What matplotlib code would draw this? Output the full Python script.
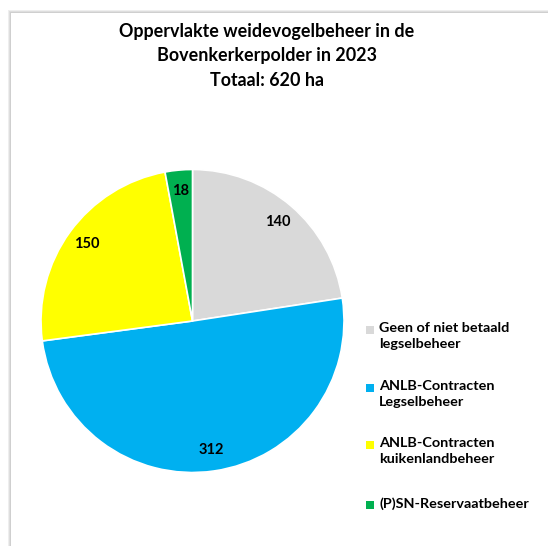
import matplotlib
matplotlib.use("Agg")
import matplotlib.pyplot as plt
from matplotlib.patches import Rectangle

categories = ["Geen of niet betaald\nlegselbeheer", "ANLB-Contracten\nLegselbeheer",
              "ANLB-Contracten\nkuikenlandbeheer", "(P)SN-Reservaatbeheer"]
values = [140, 312, 150, 18]
colors = ["#D9D9D9", "#00B0F0", "#FFFF00", "#00B050"]
title = "Oppervlakte weidevogelbeheer in de\nBovenkerkerpolder in 2023\nTotaal: 620 ha"

plt.rcParams['font.family'] = ['Lato', 'DejaVu Sans']
W, H = 548, 546
fig = plt.figure(figsize=(W / 100, H / 100), dpi=100)
fig.patch.set_facecolor("white")

# frame shadow (grey band on left and top)
for i, c in enumerate(["#eeeeee", "#dedede", "#cfcfcf"]):
    fig.patches.append(Rectangle(((8 + i) / W, -0.01), 1, (H - 10 - i) / H + 0.01,
                                 transform=fig.transFigure, facecolor=c, edgecolor="none",
                                 zorder=-3 + i * 0.1))
fig.patches.append(Rectangle((11 / W, -0.01), 1, (H - 13) / H + 0.01, transform=fig.transFigure,
                             facecolor="white", edgecolor="none", zorder=-2))

cx, cy, r = 192.5, 321, 151.5
ax = fig.add_axes([(cx - r) / W, (H - cy - r) / H, 2 * r / W, 2 * r / H])
ax.set_zorder(5)
ax.patch.set_alpha(0)
wedges, texts = ax.pie(values, colors=colors, startangle=90, counterclock=False,
                       labels=[str(v) for v in values], labeldistance=0.86,
                       wedgeprops=dict(edgecolor="white", linewidth=1.2),
                       textprops=dict(fontsize=10.5, fontweight="bold", color="black",
                                      ha="center", va="center"))
for t in texts:
    t.set_horizontalalignment("center")
ax.set_xlim(-1, 1)
ax.set_ylim(-1, 1)

fig.text(267 / W, 1 - 56 / H, title, ha="center", va="center", fontsize=12.9,
         fontweight="bold", linespacing=1.5, zorder=6)

ys = [330, 388, 445, 505]
for lab, col, y in zip(categories, colors, ys):
    fig.patches.append(Rectangle((366 / W, 1 - (y + 4) / H), 8 / W, 8 / H,
                                 transform=fig.transFigure, facecolor=col, edgecolor="none",
                                 zorder=6))
    fig.text(379 / W, 1 - (y - 8) / H, lab, ha="left", va="top", fontsize=10.4,
             fontweight="bold", linespacing=1.42, zorder=6)

fig.savefig("out.png", dpi=100, facecolor="white")
